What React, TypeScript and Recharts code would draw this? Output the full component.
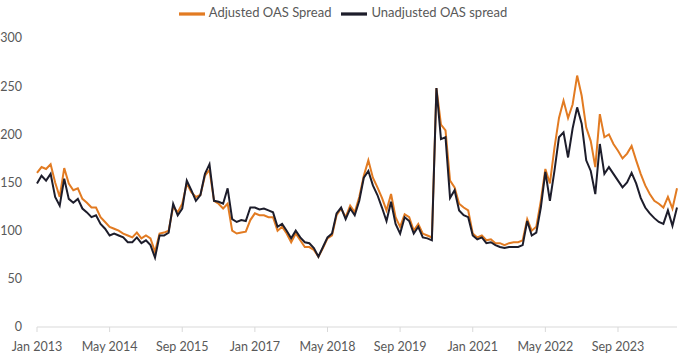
import { LineChart, Line, XAxis, YAxis, Legend } from "recharts";

// monthly readings, Jan 2013 .. Oct 2024
const adjusted = [
  160, 166, 164, 169, 150, 135, 165, 149, 142, 144, 133, 129,
  124, 124, 114, 109, 104, 102, 100, 97, 95, 93, 98, 92,
  95, 92, 78, 97, 98, 100, 125, 119, 128, 149, 140, 135,
  137, 157, 163, 131, 128, 123, 128, 100, 97, 98, 99, 111,
  118, 116, 116, 114, 114, 100, 104, 97, 88, 97, 90, 83,
  83, 80, 73, 82, 92, 95, 116, 123, 114, 126, 119, 135,
  157, 173, 155, 145, 134, 121, 138, 114, 104, 117, 114, 100,
  107, 97, 95, 93, 248, 210, 204, 152, 145, 128, 124, 121,
  97, 93, 95, 90, 91, 87, 87, 85, 87, 88, 88, 90,
  112, 100, 104, 131, 164, 149, 186, 217, 235, 217, 231, 261,
  240, 207, 193, 166, 221, 197, 200, 190, 183, 175, 180, 188,
  173, 159, 147, 138, 131, 128, 124, 135, 123, 144,
];

const unadjusted = [
  149, 157, 152, 159, 135, 126, 154, 133, 129, 133, 123, 119,
  114, 116, 107, 102, 95, 97, 95, 93, 88, 88, 93, 87,
  90, 85, 72, 95, 95, 98, 128, 116, 123, 152, 142, 131,
  137, 159, 169, 131, 130, 128, 144, 112, 109, 111, 110, 124,
  124, 122, 123, 121, 119, 104, 107, 100, 92, 100, 93, 88,
  87, 82, 73, 83, 93, 97, 118, 124, 112, 123, 116, 131,
  155, 162, 147, 137, 124, 110, 130, 107, 97, 114, 110, 97,
  104, 93, 92, 90, 248, 195, 197, 134, 142, 121, 116, 114,
  95, 91, 93, 87, 88, 85, 83, 82, 83, 83, 83, 85,
  110, 95, 98, 124, 161, 131, 162, 197, 202, 176, 206, 228,
  211, 173, 162, 138, 190, 159, 166, 159, 152, 145, 150, 160,
  149, 134, 124, 118, 113, 109, 107, 121, 105, 124,
];

const tickMonths = [0, 16, 32, 48, 64, 80, 96, 112, 128];
const tickLabels = [
  "Jan 2013", "May 2014", "Sep 2015", "Jan 2017", "May 2018",
  "Sep 2019", "Jan 2021", "May 2022", "Sep 2023",
];
const yTicks = [0, 50, 100, 150, 200, 250, 300];

const data = adjusted.map((v, i) => ({
  month: i,
  adjusted: v,
  unadjusted: unadjusted[i],
}));

const font = "Lato, 'Open Sans', sans-serif";
const grey = "#595959";

export default function App() {
  return (
    <div style={{ position: "absolute", left: 0, top: 0, width: 680, height: 363, background: "#fff" }}>
      <LineChart
        width={680}
        height={363}
        data={data}
        margin={{ top: 12, right: 3, left: 0, bottom: 0 }}
      >
        <Legend
          verticalAlign="top"
          align="center"
          iconType="plainline"
          iconSize={26}
          wrapperStyle={{ top: 1, left: 8, width: 680, fontFamily: font, fontSize: 13 }}
          formatter={(value: string) => <span style={{ color: grey }}>{value}</span>}
        />

        <XAxis
          dataKey="month"
          type="number"
          domain={[0, 141]}
          ticks={tickMonths}
          tickFormatter={(m: number) => tickLabels[tickMonths.indexOf(m)]}
          interval={0}
          height={36}
          axisLine={{ stroke: "#d9d9d9" }}
          tickLine={{ stroke: "#d9d9d9" }}
          tickSize={5}
          tickMargin={10}
          tick={{ fill: grey, fontSize: 12.5, fontFamily: font }}
        />

        <YAxis
          domain={[0, 300]}
          ticks={yTicks}
          width={37}
          axisLine={false}
          tickLine={false}
          tickSize={0}
          tickMargin={15}
          tick={{ fill: grey, fontSize: 12.5, fontFamily: font }}
        />

        <Line
          type="linear"
          dataKey="adjusted"
          name="Adjusted OAS Spread"
          stroke="#e27b22"
          strokeWidth={2}
          dot={false}
          isAnimationActive={false}
        />

        <Line
          type="linear"
          dataKey="unadjusted"
          name="Unadjusted OAS spread"
          stroke="#1d1d2b"
          strokeWidth={2}
          dot={false}
          isAnimationActive={false}
        />
      </LineChart>
    </div>
  );
}
